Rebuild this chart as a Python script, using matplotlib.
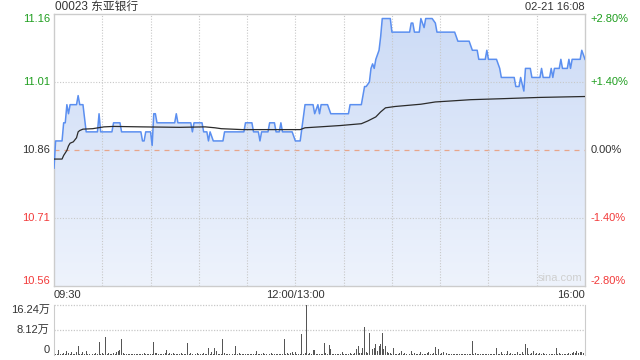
import matplotlib
matplotlib.use('Agg')
import matplotlib.pyplot as plt
import matplotlib.transforms as mtransforms
from matplotlib.patches import Polygon
from matplotlib.colors import LinearSegmentedColormap
import numpy as np

plt.rcParams['font.family'] = ['Liberation Sans', 'Noto Sans CJK SC', 'DejaVu Sans']

# --- data (minutes since 09:30, lunch break removed) ---
title = "00023 东亚银行"
stamp = "02-21 16:08"
prev_close = 10.86

price_t = [0, 1, 5, 6, 7, 8, 9, 10, 14, 15, 16, 18, 20, 27, 28, 29, 36, 37, 41, 42,
           54, 55, 56, 57, 60, 61, 62, 63, 64, 75, 76, 77, 85, 86, 87, 92, 93, 95, 96, 97,
           99, 105, 106, 118, 119, 123, 124, 127, 128, 129, 133, 134, 137, 138, 140, 141, 142, 148, 150, 153,
           156, 161, 162, 164, 165, 166, 170, 172, 183, 184, 191, 193, 194, 196, 197, 198, 199, 200, 202, 203,
           204, 209, 210, 221, 222, 223, 224, 227, 228, 230, 231, 235, 237, 238, 249, 251, 258, 260, 263, 264,
           268, 269, 270, 275, 277, 278, 286, 287, 289, 290, 292, 293, 296, 297, 302, 303, 304, 308, 309, 310,
           311, 314, 315, 316, 319, 320, 321, 322, 327, 328, 330]
price_v = [10.82, 10.88, 10.88, 10.92, 10.92, 10.96, 10.94, 10.96, 10.96, 10.98, 10.96, 10.96, 10.90, 10.90, 10.94, 10.90, 10.90, 10.92, 10.92, 10.90,
           10.90, 10.88, 10.88, 10.90, 10.90, 10.87, 10.94, 10.94, 10.92, 10.92, 10.94, 10.92, 10.92, 10.90, 10.92, 10.92, 10.90, 10.90, 10.88, 10.90,
           10.88, 10.88, 10.90, 10.90, 10.92, 10.92, 10.90, 10.90, 10.88, 10.90, 10.90, 10.92, 10.92, 10.90, 10.90, 10.92, 10.90, 10.90, 10.88, 10.88,
           10.96, 10.96, 10.94, 10.96, 10.94, 10.96, 10.96, 10.94, 10.94, 10.96, 10.96, 11.00, 11.00, 11.01, 11.04, 11.05, 11.04, 11.06, 11.08, 11.11,
           11.15, 11.15, 11.12, 11.12, 11.14, 11.14, 11.12, 11.12, 11.15, 11.13, 11.15, 11.15, 11.14, 11.12, 11.12, 11.10, 11.10, 11.08, 11.08, 11.06,
           11.06, 11.08, 11.06, 11.06, 11.04, 11.02, 11.02, 11.00, 11.00, 11.02, 10.99, 11.04, 11.04, 11.02, 11.02, 11.04, 11.02, 11.02, 11.04, 11.02,
           11.04, 11.04, 11.06, 11.04, 11.04, 11.06, 11.04, 11.06, 11.06, 11.08, 11.06]

avg_t = [0, 5, 6, 8, 9, 10, 12, 14, 15, 16, 18, 24, 31, 37, 55, 78, 94, 100, 104, 117,
         153, 156, 165, 178, 191, 195, 200, 203, 206, 212, 228, 237, 246, 259, 277, 302, 330]
avg_v = [10.84, 10.84, 10.848, 10.859, 10.869, 10.875, 10.878, 10.887, 10.900, 10.903, 10.906, 10.907, 10.911, 10.912, 10.911, 10.910, 10.911, 10.909, 10.907, 10.905,
         10.905, 10.909, 10.911, 10.914, 10.918, 10.924, 10.933, 10.944, 10.953, 10.956, 10.961, 10.966, 10.968, 10.971, 10.973, 10.976, 10.978]

# volume per minute, in 万 shares, one row per half hour
volume = [
    3.2, 0.4, 0.3, 1.6, 0.4, 0.3, 0.8, 0.4, 1.3, 0.5, 0.3, 0.9, 0.4, 0.3, 1.1, 2.9, 0.4, 0.3, 0.9, 0.4, 1.3, 0.3, 0.4, 0.5, 0.3, 0.4, 0.8, 0.3, 4.2, 0.4,
    0.8, 0.3, 5.8, 0.3, 0.5, 0.3, 0.4, 0.5, 0.3, 0.9, 1.4, 1.6, 5.2, 0.5, 0.3, 0.4, 0.3, 0.3, 0.4, 0.3, 0.3, 0.4, 0.3, 0.3, 0.4, 0.3, 0.5, 0.3, 0.3, 0.4,
    0.3, 0.4, 4.2, 0.5, 0.8, 0.3, 0.4, 0.3, 0.3, 0.5, 1.6, 0.4, 0.8, 0.4, 0.5, 0.3, 0.4, 0.3, 0.3, 0.5, 0.3, 0.4, 0.3, 3.9, 0.4, 0.8, 0.3, 0.4, 0.3, 0.5,
    0.3, 0.4, 0.3, 0.5, 0.3, 0.4, 2.3, 0.4, 0.9, 0.4, 2.3, 1.3, 0.4, 0.3, 0.4, 5.2, 0.8, 0.3, 0.4, 0.3, 0.3, 0.4, 0.3, 2.9, 0.4, 0.5, 0.3, 0.4, 0.3, 0.3,
    0.4, 0.3, 0.3, 0.4, 0.3, 0.4, 1.3, 0.4, 0.3, 0.4, 0.8, 0.3, 0.4, 1.6, 0.4, 0.8, 0.3, 0.4, 0.3, 0.3, 0.4, 0.3, 0.4, 5.2, 0.4, 0.8, 0.4, 0.5, 0.9, 0.4,
    0.9, 0.4, 0.3, 0.4, 6.8, 0.4, 0.5, 16.24, 0.4, 0.5, 0.3, 1.6, 1.6, 0.4, 0.3, 0.4, 0.3, 0.4, 3.9, 0.5, 0.4, 3.2, 1.9, 0.4, 0.3, 0.4, 0.3, 0.4, 0.3, 0.9,
    0.4, 0.3, 0.4, 0.3, 0.5, 0.4, 0.3, 0.5, 1.9, 2.9, 0.5, 0.8, 2.4, 9.2, 0.9, 0.5, 7.3, 5.5, 1.9, 2.2, 3.7, 1.4, 3.0, 3.6, 7.3, 1.9, 3.0, 1.0, 0.5, 0.8,
    0.4, 2.4, 0.3, 0.4, 0.3, 0.5, 1.3, 0.4, 0.8, 0.4, 1.3, 0.4, 1.3, 0.4, 0.8, 0.3, 0.4, 0.3, 0.9, 0.4, 0.3, 0.4, 0.5, 0.9, 0.4, 0.3, 0.5, 2.6, 0.4, 1.9,
    0.4, 0.5, 1.1, 0.4, 0.8, 0.4, 0.3, 0.4, 0.3, 0.3, 0.4, 0.3, 0.3, 0.4, 0.3, 0.3, 0.4, 0.3, 0.4, 0.3, 4.5, 0.4, 0.8, 0.3, 0.4, 0.3, 0.4, 0.3, 0.3, 0.4,
    0.3, 0.4, 0.3, 0.4, 0.3, 2.4, 0.4, 0.3, 0.9, 0.4, 0.3, 0.4, 1.4, 0.4, 0.8, 0.3, 0.4, 0.3, 1.1, 0.4, 0.3, 1.1, 0.4, 3.5, 2.4, 0.4, 0.3, 0.5, 1.4, 0.4,
    0.5, 0.3, 0.5, 0.4, 0.5, 0.3, 0.4, 0.5, 0.3, 0.4, 0.3, 0.4, 2.4, 0.4, 0.8, 0.3, 0.4, 0.3, 0.4, 0.3, 0.8, 0.4, 0.5, 0.9, 0.5, 1.4, 0.5, 0.9, 1.1, 0.5,
    12.4,
]

price_ticks = [11.16, 11.01, 10.86, 10.71, 10.56]
pct_labels = ['+2.80%', '+1.40%', '0.00%', '-1.40%', '-2.80%']
time_ticks = [0, 150, 330]
time_labels = ['09:30', '12:00/13:00', '16:00']
vol_ticks = [16.24, 8.12, 0]
vol_labels = ['16.24万', '8.12万', '0']

GREEN = '#1f9e1f'
RED = '#f23a3a'
DARK = '#333333'
GRID = '#c8c8c8'
SPINE = '#cccccc'

fig = plt.figure(figsize=(6.4, 3.6), dpi=100)
ax = fig.add_axes([54/640, 1 - 286/360, 531/640, 272/360])
axv = fig.add_axes([54/640, 1 - 355/360, 531/640, 50/360])

# ---- price panel ----
ax.set_xlim(0, 330)
ax.set_ylim(price_ticks[-1], price_ticks[0])

grad = np.linspace(1, 0, 256).reshape(-1, 1)
cmap = LinearSegmentedColormap.from_list('fill', ['#eef3fc', '#ccdbf6'])
im = ax.imshow(grad, extent=[0, 330, price_ticks[-1], price_ticks[0]], aspect='auto',
               cmap=cmap, vmin=0, vmax=1, origin='upper', zorder=1)
verts = list(zip(price_t, price_v)) + [(price_t[-1], price_ticks[-1]), (price_t[0], price_ticks[-1])]
patch = Polygon(verts, closed=True, facecolor='none', edgecolor='none')
ax.add_patch(patch)
im.set_clip_path(patch)

for v in [price_ticks[1], price_ticks[3]]:
    ax.axhline(v, color=GRID, lw=0.8, ls=(0, (1, 1.5)), zorder=2)
ax.axhline(prev_close, color='#e8a58a', lw=0.9, ls=(0, (4, 4)), zorder=2)
for t in range(30, 330, 30):
    ax.axvline(t, color=GRID, lw=0.8, ls=(0, (1, 1.5)), zorder=2)

ax.plot(price_t, price_v, color='#5b8ff0', lw=1.1, zorder=4)
ax.plot(avg_t, avg_v, color='#2b2b2b', lw=0.9, zorder=5)

ax.set_xticks([])
ax.set_yticks([])
for s in ax.spines.values():
    s.set_color(SPINE)
    s.set_linewidth(1.0)

trans_l = mtransforms.blended_transform_factory(ax.transAxes, ax.transData)
for i, (v, pl) in enumerate(zip(price_ticks, pct_labels)):
    va = 'top' if i == 0 else ('bottom' if i == len(price_ticks) - 1 else 'center')
    col = GREEN if v > prev_close else (RED if v < prev_close else DARK)
    ax.text(-0.008, v, f'{v:.2f}', transform=trans_l, ha='right', va=va, color=col, fontsize=8)
    ax.text(1.01, v, pl, transform=trans_l, ha='left', va=va, color=col, fontsize=8)

ax.text(0.995, 0.01, 'sina.com', transform=ax.transAxes, ha='right', va='bottom',
        color='#cfcfcf', fontsize=8, zorder=6)

trans_b = mtransforms.blended_transform_factory(ax.transData, ax.transAxes)
for t, lab, ha in zip(time_ticks, time_labels, ['left', 'center', 'right']):
    ax.text(t, -0.015, lab, transform=trans_b, ha=ha, va='top', color=DARK, fontsize=8)

fig.text(55/640, 1 - 7/360, title, ha='left', va='center', color=DARK, fontsize=8.5)
fig.text(585/640, 1 - 7/360, stamp, ha='right', va='center', color=DARK, fontsize=8)

# ---- volume panel ----
vol_t = np.arange(len(volume))
axv.bar(vol_t, volume, width=0.6, color='#555555', linewidth=0)
axv.set_xlim(0, 330)
axv.set_ylim(0, vol_ticks[0])
axv.set_xticks([])
axv.set_yticks([])
for v in vol_ticks[:2]:
    axv.axhline(v, color=GRID, lw=0.9, ls=(0, (1, 1.2)), zorder=0, clip_on=False)
for side in ['top', 'bottom']:
    axv.spines[side].set_visible(False)
for side in ['left', 'right']:
    axv.spines[side].set_color(SPINE)

trans_v = mtransforms.blended_transform_factory(axv.transAxes, axv.transData)
for i, (v, lab) in enumerate(zip(vol_ticks, vol_labels)):
    va = 'top' if i == 0 else ('bottom' if i == len(vol_ticks) - 1 else 'center')
    axv.text(-0.008, v, lab, transform=trans_v, ha='right', va=va, color=DARK, fontsize=8)

fig.savefig('out.png', dpi=100)
